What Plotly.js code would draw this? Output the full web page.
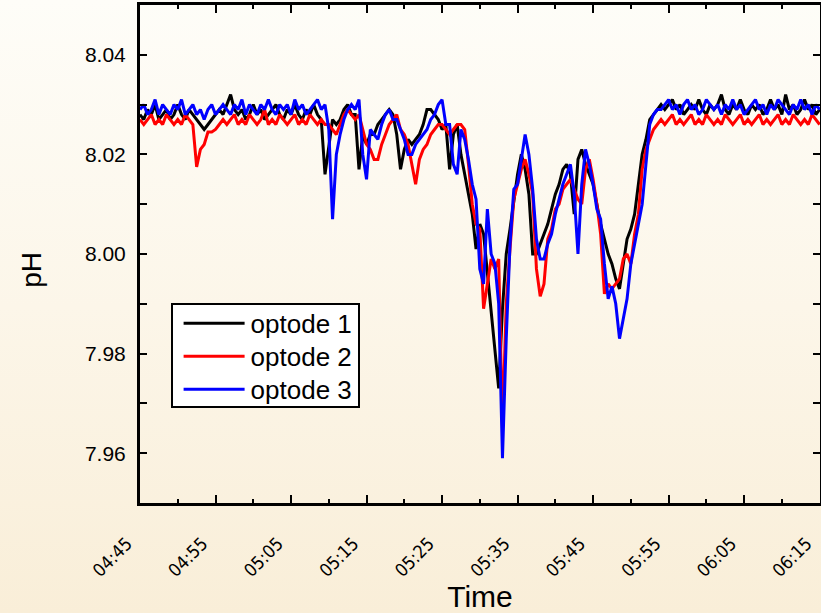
<!DOCTYPE html>
<html>
<head>
<meta charset="utf-8">
<script src="https://cdn.plot.ly/plotly-3.0.1.min.js"></script>
<style>
  html, body { margin: 0; padding: 0; }
  body { width: 821px; height: 613px; background: linear-gradient(#fefdf8 0%, #fcf6e9 50%, #f9eed8 100%); }
  #chart { width: 821px; height: 613px; }
</style>
</head>
<body>
<div id="chart"></div>
<script>
// Sampling: one value every 30 s starting at 04:45:00
const startTime = "2000-01-01 04:45:00";
const stepSeconds = 30;

const seriesNames = ["optode 1", "optode 2", "optode 3"];
const seriesColors = ["#000000", "#ff0000", "#0000ff"];

const optode1 = [
  8.028, 8.027, 8.029, 8.028, 8.030, 8.027, 8.028, 8.029, 8.027, 8.028,
  8.030, 8.028, 8.027, 8.029, 8.028, 8.027, 8.026, 8.025, 8.026, 8.027,
  8.028, 8.029, 8.028, 8.030, 8.032, 8.029, 8.028, 8.029, 8.027, 8.028,
  8.030, 8.028, 8.029, 8.027, 8.028, 8.029, 8.030, 8.028, 8.027, 8.029,
  8.028, 8.030, 8.028, 8.027, 8.029, 8.028, 8.030, 8.028, 8.027, 8.016,
  8.022, 8.027, 8.026, 8.027, 8.029, 8.030, 8.028, 8.028, 8.017, 8.024,
  8.022, 8.024, 8.024, 8.026, 8.027, 8.028, 8.029, 8.028, 8.024, 8.017,
  8.021, 8.023, 8.022, 8.023, 8.024, 8.026, 8.029, 8.029, 8.028, 8.027,
  8.025, 8.026, 8.017, 8.024, 8.026, 8.020, 8.016, 8.012, 8.008, 8.001,
  8.006, 8.004, 7.996, 7.988, 7.980, 7.973, 7.989, 8.000, 8.005, 8.011,
  8.016, 8.020, 8.017, 8.012, 8.000, 8.000, 8.002, 8.004, 8.006, 8.009,
  8.012, 8.014, 8.017, 8.018, 8.016, 8.008, 8.019, 8.021, 8.018, 8.016,
  8.014, 8.010, 8.006, 8.003, 8.000, 7.998, 7.995, 7.993, 7.998, 8.003,
  8.005, 8.008, 8.014, 8.020, 8.023, 8.027, 8.028, 8.029, 8.030, 8.029,
  8.030, 8.031, 8.029, 8.030, 8.028, 8.029, 8.030, 8.029, 8.031, 8.029,
  8.028, 8.030, 8.029, 8.030, 8.032, 8.029, 8.028, 8.030, 8.029, 8.031,
  8.029, 8.028, 8.030, 8.029, 8.030, 8.028, 8.029, 8.031, 8.029, 8.030,
  8.028, 8.032, 8.029, 8.030, 8.028, 8.029, 8.031, 8.029, 8.030, 8.028,
  8.029
];

const optode2 = [
  8.027, 8.026, 8.027, 8.028, 8.026, 8.027, 8.026, 8.028, 8.027, 8.026,
  8.027, 8.026, 8.028, 8.027, 8.026, 8.0175, 8.021, 8.022, 8.0245, 8.0245,
  8.025, 8.026, 8.027, 8.026, 8.027, 8.028, 8.026, 8.027, 8.026, 8.028,
  8.027, 8.026, 8.027, 8.029, 8.026, 8.027, 8.026, 8.028, 8.027, 8.026,
  8.027, 8.028, 8.026, 8.027, 8.026, 8.028, 8.027, 8.026, 8.027, 8.026,
  8.026, 8.025, 8.024, 8.026, 8.028, 8.029, 8.028, 8.027, 8.028, 8.025,
  8.022, 8.021, 8.019, 8.019, 8.022, 8.024, 8.026, 8.027, 8.028, 8.025,
  8.024, 8.022, 8.018, 8.014, 8.019, 8.021, 8.022, 8.024, 8.025, 8.026,
  8.026, 8.025, 8.024, 8.025, 8.026, 8.026, 8.025, 8.018, 8.010, 8.006,
  8.005, 7.989, 7.994, 7.999, 7.997, 7.999, 7.965, 7.990, 8.001, 8.011,
  8.014, 8.017, 8.019, 8.016, 8.012, 7.997, 7.9915, 7.994, 8.003, 8.005,
  8.009, 8.010, 8.013, 8.014, 8.015, 8.013, 8.011, 8.010, 8.017, 8.019,
  8.015, 8.010, 8.004, 7.992, 7.994, 7.993, 7.994, 7.995, 7.999, 8.000,
  7.998, 8.004, 8.008, 8.017, 8.021, 8.023, 8.025, 8.026, 8.027, 8.026,
  8.027, 8.028, 8.026, 8.027, 8.026, 8.027, 8.028, 8.026, 8.027, 8.026,
  8.028, 8.027, 8.026, 8.027, 8.026, 8.028, 8.027, 8.026, 8.027, 8.028,
  8.026, 8.027, 8.026, 8.027, 8.028, 8.026, 8.027, 8.026, 8.027, 8.028,
  8.026, 8.027, 8.026, 8.028, 8.027, 8.026, 8.027, 8.026, 8.028, 8.027,
  8.026
];

const optode3 = [
  8.029, 8.030, 8.028, 8.029, 8.031, 8.028, 8.030, 8.029, 8.028, 8.030,
  8.029, 8.031, 8.028, 8.029, 8.030, 8.028, 8.029, 8.027, 8.029, 8.030,
  8.028, 8.029, 8.030, 8.029, 8.028, 8.030, 8.029, 8.031, 8.028, 8.030,
  8.029, 8.028, 8.030, 8.029, 8.031, 8.029, 8.028, 8.030, 8.029, 8.030,
  8.028, 8.031, 8.029, 8.030, 8.028, 8.029, 8.030, 8.031, 8.029, 8.030,
  8.025, 8.007, 8.020, 8.024, 8.027, 8.029, 8.030, 8.029, 8.031, 8.020,
  8.015, 8.025, 8.024, 8.023, 8.026, 8.028, 8.029, 8.027, 8.027, 8.025,
  8.023, 8.020, 8.020, 8.022, 8.023, 8.024, 8.025, 8.027, 8.028, 8.030,
  8.031, 8.026, 8.026, 8.018, 8.016, 8.025, 8.023, 8.019, 8.014, 8.011,
  7.997, 7.994, 8.009, 8.000, 7.998, 7.990, 7.959, 7.983, 8.002, 8.013,
  8.014, 8.019, 8.024, 8.020, 8.013, 8.003, 7.999, 7.999, 8.002, 8.004,
  8.008, 8.011, 8.014, 8.016, 8.018, 8.012, 8.000, 8.014, 8.021, 8.018,
  8.014, 8.009, 8.007, 7.998, 7.991, 7.9935, 7.990, 7.983, 7.987, 7.991,
  7.998, 8.002, 8.006, 8.010, 8.018, 8.026, 8.028, 8.029, 8.029, 8.030,
  8.031, 8.029, 8.030, 8.028, 8.030, 8.031, 8.029, 8.030, 8.028, 8.029,
  8.031, 8.030, 8.029, 8.030, 8.028, 8.030, 8.029, 8.031, 8.029, 8.030,
  8.028, 8.029, 8.030, 8.031, 8.029, 8.030, 8.028, 8.030, 8.029, 8.031,
  8.030, 8.029, 8.028, 8.030, 8.029, 8.031, 8.029, 8.030, 8.028, 8.030,
  8.029
];

const seriesValues = [optode1, optode2, optode3];

function timeGrid(n) {
  const t0 = new Date(startTime.replace(" ", "T") + "Z").getTime();
  const out = [];
  for (let i = 0; i < n; i++) {
    const d = new Date(t0 + i * stepSeconds * 1000);
    out.push(d.toISOString().replace("T", " ").slice(0, 19));
  }
  return out;
}

const traces = seriesValues.map((vals, k) => ({
  type: "scatter",
  mode: "lines",
  name: seriesNames[k],
  x: timeGrid(vals.length),
  y: vals,
  line: { color: seriesColors[k], width: 3 }
}));

const narrow = "'Liberation Sans Narrow', 'Arial Narrow', 'DejaVu Sans Condensed', sans-serif";
const sans = "'Liberation Sans', Arial, sans-serif";

const layout = {
  width: 821,
  height: 613,
  margin: { l: 140, r: 1, t: 5, b: 110, pad: 0 },
  paper_bgcolor: "rgba(0,0,0,0)",
  plot_bgcolor: "rgba(0,0,0,0)",
  showlegend: true,
  legend: {
    x: 0.045, y: 0.402, xanchor: "left", yanchor: "top",
    bgcolor: "#ffffff", bordercolor: "#000000", borderwidth: 2,
    font: { family: sans, size: 26, color: "#000" },
    itemwidth: 68,
    tracegroupgap: 0
  },
  xaxis: {
    type: "date",
    range: ["2000-01-01 04:45:00", "2000-01-01 06:15:03"],
    tick0: "2000-01-01 04:45:00",
    dtick: 600000,
    tickformat: "%H:%M",
    tickangle: -45,
    ticks: "inside",
    ticklen: 8,
    tickwidth: 2,
    tickcolor: "#000",
    minor: { dtick: 300000, ticks: "inside", ticklen: 4, tickwidth: 2, tickcolor: "#000", showgrid: false },
    showline: true, linecolor: "#000", linewidth: 3, mirror: "ticks",
    showgrid: false, zeroline: false,
    tickfont: { family: narrow, size: 18, color: "#000" },
    ticklabelstandoff: 20,
    ticklabelshift: -13,
    ticklabeloverflow: "allow",
    title: { text: "Time", font: { family: sans, size: 30, color: "#000" }, standoff: 0 }
  },
  yaxis: {
    range: [7.95, 8.05],
    tick0: 7.96,
    dtick: 0.02,
    tickformat: ".2f",
    ticks: "inside",
    ticklen: 7,
    tickwidth: 2,
    tickcolor: "#000",
    minor: { dtick: 0.01, ticks: "inside", ticklen: 7, tickwidth: 2, tickcolor: "#000", showgrid: false },
    showline: true, linecolor: "#000", linewidth: 3, mirror: "ticks",
    showgrid: false, zeroline: false,
    tickfont: { family: sans, size: 21, color: "#000" },
    ticklabelstandoff: 7
  },
  annotations: [{
    text: "pH", textangle: -90, showarrow: false,
    xref: "paper", yref: "paper", x: -0.159, y: 0.468,
    xanchor: "center", yanchor: "middle",
    font: { family: sans, size: 28, color: "#000" }
  }]
};

Plotly.newPlot("chart", traces, layout, { displayModeBar: false, staticPlot: true }).then(() => {
  // legend: longer line samples and tighter rows, as in the original figure
  const leg = document.querySelector(".legend");
  if (!leg) return;
  leg.querySelectorAll(".legendlines path").forEach(p => p.setAttribute("d", "M11,0h61"));
  const items = leg.querySelectorAll("g.traces");
  let y0 = null;
  items.forEach((g, k) => {
    const m = /translate\(([-\d.]+),\s*([-\d.]+)\)/.exec(g.getAttribute("transform") || "");
    if (!m) return;
    if (y0 === null) y0 = parseFloat(m[2]) - 5;
    g.setAttribute("transform", `translate(${m[1]},${y0 + k * 33})`);
  });
  const bg = leg.querySelector("rect.bg");
  if (bg) bg.setAttribute("height", 103);
});
</script>
</body>
</html>
